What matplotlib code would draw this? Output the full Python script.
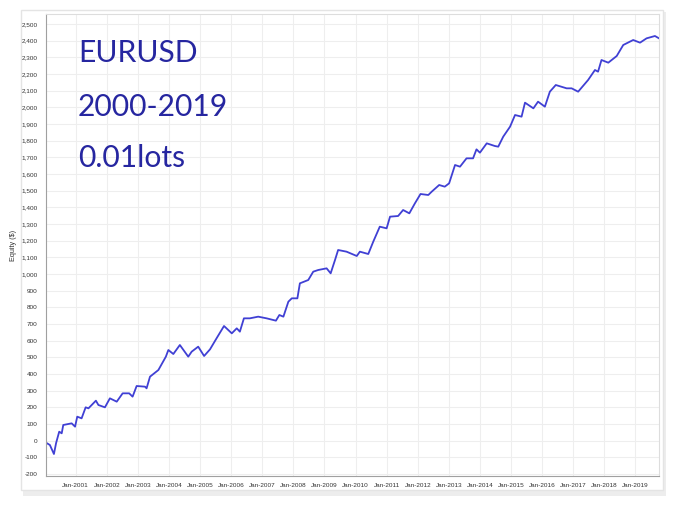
import matplotlib
matplotlib.use("Agg")
import matplotlib.pyplot as plt
from matplotlib.patches import Rectangle

# x positions in decimal years, equity values in $
years = [2000.045, 2000.17, 2000.30, 2000.37, 2000.47, 2000.55, 2000.60, 2000.87, 2000.98,
         2001.05, 2001.19, 2001.32, 2001.41, 2001.65, 2001.73, 2001.94, 2002.10, 2002.32,
         2002.51, 2002.72, 2002.83, 2002.96, 2003.23, 2003.28, 2003.39, 2003.66, 2003.90,
         2003.98, 2004.14, 2004.35, 2004.62, 2004.73, 2004.94, 2005.13, 2005.32, 2005.53,
         2005.77, 2006.02, 2006.18, 2006.28, 2006.41, 2006.60, 2006.87, 2007.14, 2007.44,
         2007.55, 2007.68, 2007.84, 2007.95, 2008.13, 2008.21, 2008.48, 2008.64, 2008.80,
         2009.07, 2009.20, 2009.34, 2009.44, 2009.71, 2010.04, 2010.14, 2010.41, 2010.57,
         2010.78, 2011.00, 2011.11, 2011.37, 2011.53, 2011.73, 2011.91, 2012.09, 2012.34,
         2012.45, 2012.69, 2012.87, 2013.01, 2013.20, 2013.36, 2013.57, 2013.78, 2013.89,
         2014.00, 2014.22, 2014.48, 2014.59, 2014.75, 2014.97, 2015.13, 2015.34, 2015.45,
         2015.72, 2015.87, 2016.09, 2016.25, 2016.44, 2016.79, 2016.95, 2017.16, 2017.48,
         2017.70, 2017.80, 2017.91, 2018.13, 2018.40, 2018.61, 2018.93, 2019.15, 2019.36,
         2019.63, 2019.76]
equity = [-12, -26, -80, -14, 54, 44, 94, 104, 84,
          144, 134, 200, 194, 240, 214, 200, 254, 234,
          284, 284, 264, 328, 324, 314, 384, 424, 504,
          544, 520, 574, 504, 534, 564, 508, 548, 614,
          688, 644, 674, 654, 734, 734, 744, 734, 720,
          754, 744, 834, 854, 854, 944, 964, 1014, 1024,
          1034, 1004, 1084, 1144, 1134, 1108, 1134, 1120, 1194,
          1284, 1274, 1344, 1348, 1384, 1364, 1424, 1480, 1474,
          1494, 1534, 1524, 1544, 1654, 1644, 1694, 1694, 1748,
          1728, 1784, 1768, 1764, 1824, 1884, 1954, 1944, 2028,
          1994, 2034, 2004, 2094, 2134, 2114, 2114, 2094, 2164,
          2224, 2214, 2284, 2268, 2308, 2374, 2404, 2388, 2414,
          2428, 2414]

tick_years = list(range(2001, 2020))
x_labels = [f"Jan-{y}" for y in tick_years]
y_ticks = list(range(-200, 2600, 100))
y_labels = [f"{v:,}" for v in y_ticks]
title_lines = ["EURUSD", "2000-2019", "0.01lots"]

W, H = 675, 511
fig = plt.figure(figsize=(W / 100, H / 100), dpi=100)
fig.patch.set_facecolor("white")

# outer frame with shadow
shadow = Rectangle((23 / W, 1 - 496 / H), (666 - 23) / W, (496 - 12) / H,
                   transform=fig.transFigure, facecolor="#ededed", edgecolor="none", zorder=0)
fig.patches.append(shadow)
frame = Rectangle((21 / W, 1 - 490 / H), (663 - 21) / W, (490 - 10) / H,
                  transform=fig.transFigure, facecolor="white", edgecolor="#e4e4e4",
                  linewidth=1.0, zorder=0.5)
fig.patches.append(frame)

tick_font = ["Liberation Sans", "DejaVu Sans"]

ax = fig.add_axes([46 / W, 1 - 476 / H, (659 - 46) / W, (476 - 14) / H])
ax.set_zorder(2)
ax.set_facecolor("white")
ax.plot(years, equity, color="#4040d4", linewidth=1.3)
ax.set_xlim(2000.045, 2019.76)
ax.set_ylim(-212, 2560)
ax.set_xticks(tick_years)
ax.set_xticklabels(x_labels, fontsize=4.6, color="#333333", family=tick_font)
ax.set_yticks(y_ticks)
ax.set_yticklabels(y_labels, fontsize=4.6, color="#333333", family=tick_font)
ax.tick_params(axis="x", length=0, pad=5)
ax.tick_params(axis="y", length=0, pad=6)
ax.grid(True, color="#eeeeee", linewidth=0.8)
ax.set_axisbelow(True)
for s in ["top", "right"]:
    ax.spines[s].set_color("#dddddd")
for s in ["left", "bottom"]:
    ax.spines[s].set_color("#a0a0a0")
    ax.spines[s].set_linewidth(0.8)
ax.set_ylabel("Equity ($)", fontsize=5.2, color="#333333", labelpad=3, family=tick_font)

baselines = [62, 116, 167]
for txt, yb in zip(title_lines, baselines):
    fig.text(78 / W, 1 - yb / H, txt, fontsize=21.6, color="#2626a0",
             family="Lato", va="baseline", ha="left", zorder=5)

fig.savefig("out.png", dpi=100)
